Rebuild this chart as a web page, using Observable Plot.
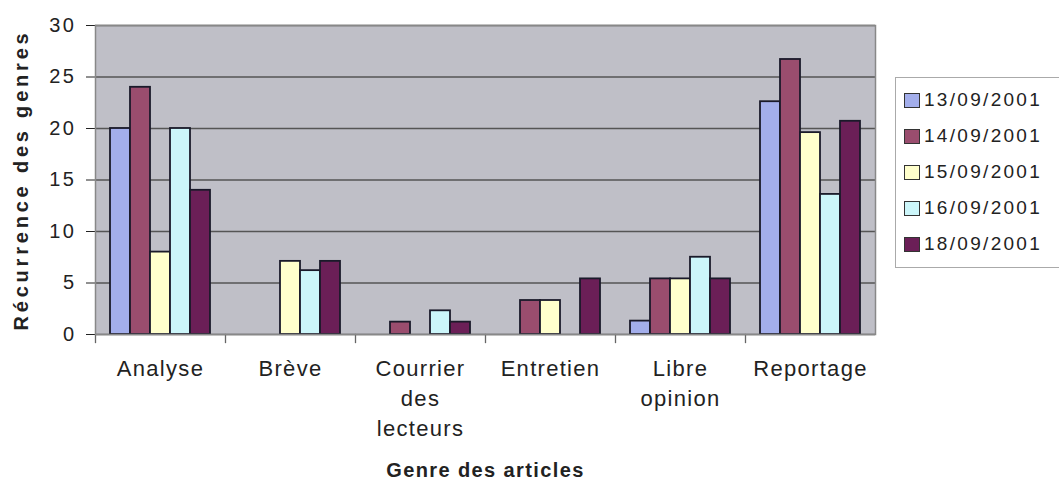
<!DOCTYPE html>
<html><head><meta charset="utf-8">
<script src="https://cdn.jsdelivr.net/npm/d3@7"></script>
<script src="https://cdn.jsdelivr.net/npm/@observablehq/plot@0.6"></script>
<style>
body{margin:0;background:#fff;font-family:"Liberation Sans",Arial,sans-serif;}
#wrap{position:relative;width:1059px;height:483px;overflow:hidden;}
#legend{position:absolute;left:895px;top:77px;width:175px;height:191px;border:1px solid #aaa;box-sizing:border-box;padding:4px 0 0 8px;}
.item{display:flex;align-items:center;height:36px;font-size:19px;letter-spacing:2.3px;color:#222;}
.sw{width:16px;height:15px;border:1.5px solid #333;box-sizing:border-box;margin-right:4px;}
svg [aria-label="y-axis label"] text{font-weight:bold;font-size:20px;letter-spacing:3.8px;}
svg [aria-label="fx-axis label"] text{font-weight:bold;font-size:20px;letter-spacing:1.4px;}
svg [aria-label="y-axis tick label"] text{letter-spacing:2.5px;}
svg [aria-label="fx-axis tick label"] text{letter-spacing:1.3px;}
</style></head>
<body><div id="wrap"><div id="legend"></div></div>
<script>
const genres = ["Analyse","Brève","Courrier des lecteurs","Entretien","Libre opinion","Reportage"];
const genreLabels = ["Analyse","Brève","Courrier\ndes\nlecteurs","Entretien","Libre\nopinion","Reportage"];
const dates = ["13/09/2001","14/09/2001","15/09/2001","16/09/2001","18/09/2001"];
const colors = ["#a3aeeb","#9a4d6e","#ffffcc","#ccf6fa","#6b1f57"];
const v13 = [20, 0, 0, 0, 1.3, 22.6];
const v14 = [24, 0, 1.2, 3.3, 5.4, 26.7];
const v15 = [8, 7.1, 0, 3.3, 5.4, 19.6];
const v16 = [20, 6.2, 2.3, 0, 7.5, 13.6];
const v18 = [14, 7.1, 1.2, 5.4, 5.4, 20.7];
const yTicks = [0,5,10,15,20,25,30];

const series = [v13,v14,v15,v16,v18];
const data = [];
genres.forEach((g,gi)=>dates.forEach((d,di)=>{
  if (series[di][gi] > 0) data.push({genre:g, date:d, value:series[di][gi]});
}));

const W = 1059, H = 483, mT = 25, mB = 149;
const chart = Plot.plot({
  width:W, height:H,
  marginLeft:94, marginRight:184, marginTop:mT, marginBottom:mB,
  style:{fontFamily:"Liberation Sans, Arial, sans-serif", fontSize:"20px", color:"#222", background:"transparent"},
  fx:{domain:genres, padding:0},
  x:{domain:dates, paddingInner:0, paddingOuter:0.72, axis:null},
  y:{domain:[0,30]},
  color:{domain:dates, range:colors},
  marks:[
    Plot.frame({fill:"#bfbfc7", stroke:"#bfbfc7", strokeWidth:1}),
    Plot.ruleY(yTicks, {stroke:"#555", strokeWidth:1.3}),
    Plot.barY(data, {fx:"genre", x:"date", y:"value", fill:"date", stroke:"#1a1a2a", strokeWidth:1.8}),
    Plot.frame({anchor:"left", stroke:"#666", strokeWidth:1.3, insetTop:H-mT-mB, insetBottom:-8}),
    Plot.axisY({ticks:yTicks, tickSize:9, tickPadding:10, label:"Récurrence des genres", labelArrow:"none", labelAnchor:"center", labelOffset:82, fontSize:20}),
    Plot.axisFx({anchor:"bottom", tickSize:0, tickPadding:20, tickFormat:(d)=>genreLabels[genres.indexOf(d)], lineHeight:1.36, label:"Genre des articles", labelAnchor:"center", labelOffset:142, fontSize:22}),
    Plot.frame({facet:"super", stroke:"#888", strokeWidth:1.5})
  ]
});
chart.querySelectorAll("text").forEach(t=>{
  t.querySelectorAll("tspan").forEach(s=>{ s.textContent = s.textContent.replace(/\s*[↑→←↓]\s*/g,""); });
  if (!t.querySelector("tspan")) t.textContent = t.textContent.replace(/\s*[↑→←↓]\s*/g,"");
});
document.getElementById("wrap").prepend(chart);
const lg = document.getElementById("legend");
dates.forEach((d,i)=>{
  const it = document.createElement("div"); it.className="item";
  it.innerHTML = `<span class="sw" style="background:${colors[i]}"></span>${d}`;
  lg.appendChild(it);
});
</script></body></html>
